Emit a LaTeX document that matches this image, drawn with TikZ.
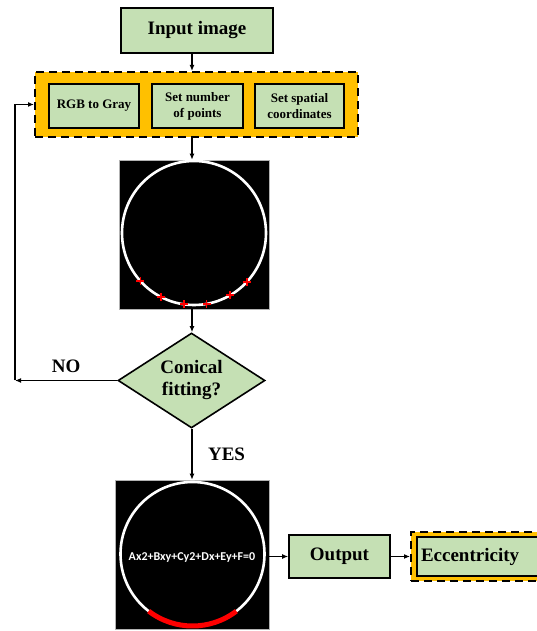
\documentclass[tikz,border=0pt]{standalone}
\usepackage{fontspec}
\setmainfont{Liberation Serif}
\newfontfamily\eqfont{Carlito}
\usepackage{tikz}
\usetikzlibrary{arrows.meta, positioning, shapes.geometric}

\definecolor{boxgreen}{RGB}{197,224,180}
\definecolor{grouporange}{RGB}{255,192,0}
\definecolor{markred}{RGB}{255,0,0}

\begin{document}
\begin{tikzpicture}[
    x=1pt, y=1pt,
    font=\bfseries,
    block/.style = {draw, line width=1.6pt, fill=boxgreen, align=center, inner sep=0pt,
                    font=\bfseries\fontsize{19}{22}\selectfont},
    small/.style = {block, font=\bfseries\fontsize{13}{16}\selectfont},
    group/.style = {draw, line width=2pt, dash pattern=on 8pt off 5pt, fill=grouporange, inner sep=0pt},
    photo/.style = {draw=gray!60, line width=0.5pt, fill=black, inner sep=0pt},
    decision/.style = {draw, diamond, line width=1.6pt, fill=boxgreen, align=center, inner sep=0pt,
                       aspect=1.55, font=\bfseries\fontsize{19}{22}\selectfont},
    ring/.style = {white, line width=2.6pt},
    cross/.style = {markred, line width=1.8pt},
    fitarc/.style = {markred, line width=5pt},
    arrow/.style = {line width=1.4pt, -{Latex[length=6pt, width=5pt]}},
    lbl/.style = {font=\bfseries\fontsize{19}{22}\selectfont}
  ]

  \useasboundingbox (0,0) rectangle (537,631);
  \clip (0,0) rectangle (537,631);

  % Input block on top
  \node[block, minimum width=152pt, minimum height=45pt] (input) at (197,600.5) {Input image};

  % Pre-processing group with its three steps
  \node[group, minimum width=323pt, minimum height=65pt] (grp) at (196.5,526.5) {};
  \node[small, minimum width=90pt, minimum height=44pt] (rgb) at (94,525) {RGB to Gray};
  \node[small, minimum width=91pt, minimum height=44pt] (setnum) at (197.5,525) {Set number\\of points};
  \node[small, minimum width=89pt, minimum height=44pt] (setcoord) at (299.5,525) {Set spatial\\coordinates};

  % Image with the picked points
  \node[photo, minimum width=150pt, minimum height=149pt] (img1) at (194,396.5) {};
  \coordinate (ring1) at (194,398);
  \draw[ring] (ring1) circle (72);
  \foreach \a in {222,243,262,280,300,317}
    \draw[cross] ([shift={(\a:72)}]ring1) +(-4,0) -- +(4,0) +(0,-4) -- +(0,4);

  % Decision
  \node[decision, minimum width=147pt, minimum height=95pt] (dia) at (191.5,250.5) {Conical\\fitting?};
  \coordinate (nocorner) at (15,250.5);

  % Image with the fitted conic
  \node[photo, minimum width=154pt, minimum height=149pt] (img2) at (192,76.5) {};
  \coordinate (ring2) at (192.5,77);
  \draw[ring] (ring2) circle (72);
  \draw[fitarc] ([shift={(232.5:72)}]ring2) arc[start angle=232.5, end angle=307.5, radius=72];
  \node[white, font=\eqfont\bfseries\fontsize{12}{14}\selectfont] (eq) at (192,73) {Ax2+Bxy+Cy2+Dx+Ey+F=0};

  % Output and result
  \node[block, minimum width=101pt, minimum height=43pt] (output) at (339.5,74.5) {Output};
  \node[group, minimum width=140pt, minimum height=49pt] (eccgrp) at (481,74.5) {};
  \node[block, minimum width=128pt, minimum height=39pt, text width=120pt, align=left] (ecc) at (481,74.5) {Eccentricity};

  % Connections
  \draw[arrow] (input.south -| 192,0) -- (grp.north -| 192,0);
  \draw[arrow] (grp.south -| 192,0) -- (img1.north -| 192,0);
  \draw[arrow] (img1.south -| 192,0) -- (dia.north -| 192,0);
  \draw[arrow] (dia.west) -- (nocorner) node[midway, above=4pt, lbl] {NO};
  \draw[arrow] (nocorner) |- (grp.west);
  \draw[arrow] (dia.south -| 192,0) -- (img2.north -| 192,0) node[midway, right=12pt, lbl] {YES};
  \draw[arrow] (img2.east |- output.west) -- (output.west);
  \draw[arrow] (output.east) -- (eccgrp.west);

\end{tikzpicture}
\end{document}
